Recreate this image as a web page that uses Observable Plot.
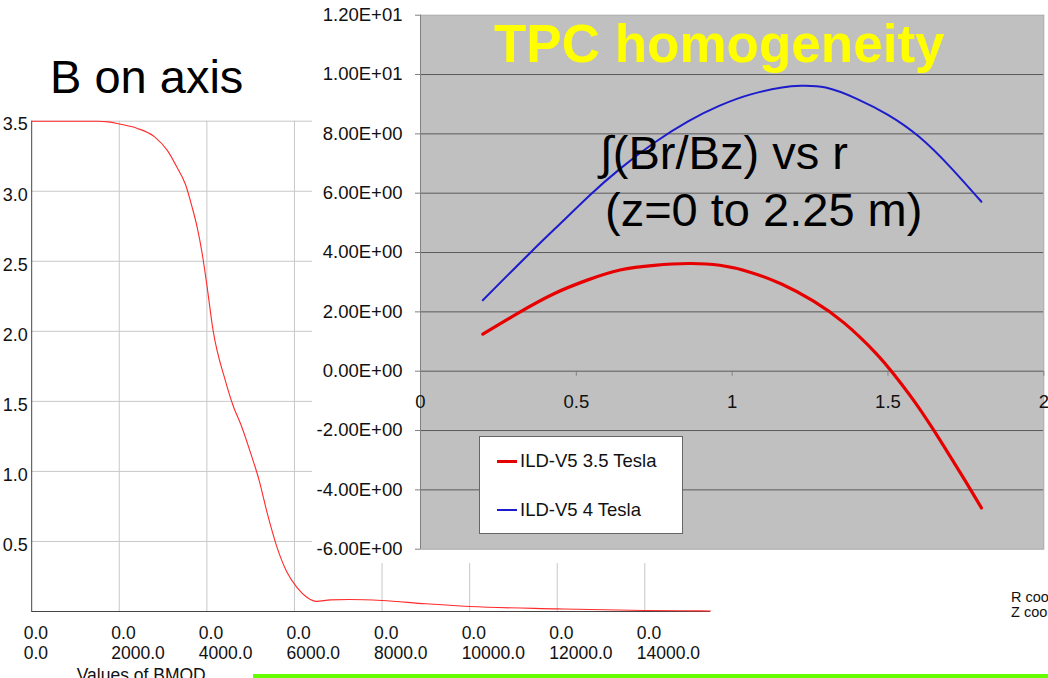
<!DOCTYPE html>
<html>
<head>
<meta charset="utf-8">
<script src="https://cdn.jsdelivr.net/npm/d3@7"></script>
<script src="https://cdn.jsdelivr.net/npm/@observablehq/plot@0.6"></script>
<style>
  html, body { margin: 0; padding: 0; background: white; }
  #wrap { position: relative; width: 1048px; height: 678px; overflow: hidden; background: white;
          font-family: "Liberation Sans", Arial, sans-serif; }
  #wrap > * { position: absolute; }
  .legend { background: white; border: 1px solid #666; box-sizing: border-box; font-size: 18.5px; color: #111; }
  .legend .row { position: absolute; display: flex; align-items: center; }
  .legend .sw { width: 20px; margin-right: 3px; }
</style>
</head>
<body>
<div id="wrap"></div>
<script>
// ---------- Left chart: B on axis ----------
const bzZ = [0, 1000, 1500, 1750, 2000, 2400, 2800, 3100, 3320, 3510, 3660, 3780, 3890, 4000, 4140, 4420, 4610, 4770, 5000, 5190, 5380, 5600, 5830, 6060, 6290, 6500, 6820, 7250, 8000, 9000, 10000, 12000, 14000, 15500];
const bzB = [3.50, 3.50, 3.50, 3.495, 3.48, 3.45, 3.39, 3.29, 3.17, 3.05, 2.89, 2.74, 2.56, 2.33, 2.01, 1.65, 1.46, 1.34, 1.13, 0.94, 0.70, 0.46, 0.28, 0.17, 0.10, 0.072, 0.083, 0.086, 0.079, 0.055, 0.036, 0.019, 0.007, 0.004];
const leftXTicks = [0, 2000, 4000, 6000, 8000, 10000, 12000, 14000];
const leftYTicks = [0.5, 1.0, 1.5, 2.0, 2.5, 3.0, 3.5];
const leftXTop = ["0.0", "0.0", "0.0", "0.0", "0.0", "0.0", "0.0", "0.0"];
const leftXBottom = ["0.0", "2000.0", "4000.0", "6000.0", "8000.0", "10000.0", "12000.0", "14000.0"];
const leftYLabels = ["0.5", "1.0", "1.5", "2.0", "2.5", "3.0", "3.5"];

// ---------- Right chart: TPC homogeneity ----------
const redR = [0.2, 0.32, 0.43, 0.535, 0.64, 0.75, 0.86, 0.96, 1.06, 1.16, 1.26, 1.36, 1.46, 1.52, 1.58, 1.64, 1.70, 1.75, 1.8];
const redV = [1.25, 2.0, 2.62, 3.07, 3.41, 3.57, 3.63, 3.57, 3.33, 2.93, 2.37, 1.62, 0.62, -0.12, -0.95, -1.88, -2.88, -3.73, -4.61];
const blueR = [0.2, 0.35, 0.46, 0.545, 0.64, 0.75, 0.86, 0.96, 1.06, 1.16, 1.22, 1.30, 1.40, 1.50, 1.60, 1.70, 1.8];
const blueV = [2.39, 3.97, 5.09, 5.95, 6.82, 7.7, 8.43, 8.95, 9.33, 9.56, 9.62, 9.56, 9.18, 8.64, 7.90, 6.88, 5.71];
const rightXTicks = [0, 0.5, 1, 1.5, 2];
const rightXLabels = ["0", "0.5", "1", "1.5", "2"];
const rightYTicks = [-6, -4, -2, 0, 2, 4, 6, 8, 10, 12];
const rightYLabels = ["-6.00E+00", "-4.00E+00", "-2.00E+00", "0.00E+00", "2.00E+00", "4.00E+00", "6.00E+00", "8.00E+00", "1.00E+01", "1.20E+01"];
const seriesNames = ["ILD-V5 3.5 Tesla", "ILD-V5 4 Tesla"];
const seriesColors = ["#e60000", "#1c1ccc"];

const bzData = bzZ.map((z, i) => ({z, b: bzB[i]}));
const redData = redR.map((r, i) => ({r, v: redV[i]}));
const blueData = blueR.map((r, i) => ({r, v: blueV[i]}));

const FONT = '"Liberation Sans", Arial, sans-serif';
const wrap = document.getElementById("wrap");

// Left plot
const left = Plot.plot({
  width: 720, height: 678,
  marginLeft: 31.2, marginRight: 10, marginTop: 120.7, marginBottom: 67,
  x: {domain: [0, 15500], axis: null},
  y: {domain: [0, 3.5], axis: null},
  style: {background: "transparent", fontFamily: FONT, color: "#111"},
  marks: [
    Plot.gridX(leftXTicks.slice(1), {stroke: "#c8c8c8", strokeOpacity: 1}),
    Plot.gridY(leftYTicks, {stroke: "#c8c8c8", strokeOpacity: 1}),
    Plot.ruleX([0], {stroke: "#444"}),
    Plot.ruleY([0], {stroke: "#444"}),
    Plot.line(bzData, {x: "z", y: "b", stroke: "#ff2a2a", strokeWidth: 1.1, curve: "monotone-x"}),
    Plot.axisY(leftYTicks, {tickSize: 0, tickPadding: 4, fontSize: 18, dy: 3.5, label: null,
      tickFormat: d => leftYLabels[leftYTicks.indexOf(d)]}),
    Plot.text(leftXTicks, {x: d => d, frameAnchor: "bottom", text: (d, i) => leftXTop[i],
      textAnchor: "start", dx: -8, dy: 27, fontSize: 17.5}),
    Plot.text(leftXTicks, {x: d => d, frameAnchor: "bottom", text: (d, i) => leftXBottom[i],
      textAnchor: "start", dx: -8, dy: 47, fontSize: 17.5}),
    Plot.text(["Values of BMOD"], {frameAnchor: "bottom-left", text: d => d, textAnchor: "start",
      dx: 45, dy: 69, fontSize: 17.5})
  ]
});
left.style.left = "0px"; left.style.top = "0px";
wrap.appendChild(left);

// Right plot
const right = Plot.plot({
  width: 736, height: 563,
  marginLeft: 108, marginRight: 4.7, marginTop: 14.7, marginBottom: 14.3,
  x: {domain: [0, 2], axis: null},
  y: {domain: [-6, 12], axis: null},
  style: {background: "white", fontFamily: FONT, color: "#111"},
  marks: [
    Plot.frame({fill: "#c0c0c0", stroke: null}),
    Plot.gridY(rightYTicks.slice(1, -1), {stroke: "#5a5a5a", strokeOpacity: 1}),
    Plot.frame({stroke: "#a8a8a8"}),
    Plot.ruleX([0], {stroke: "#808080"}),
    Plot.ruleX(rightXTicks, {x: d => d, y1: 0, y2: 0, insetBottom: -5, stroke: "#808080"}),
    Plot.axisY(rightYTicks, {tickSize: 5, tickPadding: 13, fontSize: 18.5, stroke: "#808080", label: null,
      tickFormat: d => rightYLabels[rightYTicks.indexOf(d)]}),
    Plot.text(rightXTicks, {x: d => d, y: 0, dy: 31, fontSize: 18.5,
      text: d => rightXLabels[rightXTicks.indexOf(d)]}),
    Plot.line(blueData, {x: "r", y: "v", stroke: seriesColors[1], strokeWidth: 2, curve: "natural"}),
    Plot.line(redData, {x: "r", y: "v", stroke: seriesColors[0], strokeWidth: 3.2, curve: "natural"})
  ]
});
right.style.left = "312px"; right.style.top = "0px";
wrap.appendChild(right);

// Legend
const legend = document.createElement("div");
legend.className = "legend";
Object.assign(legend.style, {left: "479px", top: "436px", width: "204px", height: "98px"});
seriesNames.forEach((name, i) => {
  const row = document.createElement("div");
  row.className = "row";
  row.style.left = "17px";
  row.style.top = (i === 0 ? 13 : 62) + "px";
  const sw = document.createElement("div");
  sw.className = "sw";
  sw.style.height = (i === 0 ? 3 : 2) + "px";
  sw.style.background = seriesColors[i];
  const t = document.createElement("span");
  t.textContent = name;
  row.appendChild(sw); row.appendChild(t);
  legend.appendChild(row);
});
wrap.appendChild(legend);

// Annotation texts
const NS = "http://www.w3.org/2000/svg";
const ann = document.createElementNS(NS, "svg");
ann.setAttribute("width", 1048); ann.setAttribute("height", 678);
ann.style.left = "0px"; ann.style.top = "0px";
ann.style.fontFamily = FONT;
const annotations = [
  {text: "B on axis", x: 50, y: 93, size: 47, fill: "#000", weight: "normal"},
  {text: "TPC homogeneity", x: 494, y: 62, size: 53, fill: "#ffff00", weight: "bold"},
  {text: "\u222B(Br/Bz) vs r", x: 600, y: 169, size: 47, fill: "#000", weight: "normal"},
  {text: "(z=0 to 2.25 m)", x: 605, y: 226, size: 47, fill: "#000", weight: "normal"},
  {text: "R coor", x: 1011, y: 602, size: 14.5, fill: "#111", weight: "normal"},
  {text: "Z coor", x: 1011, y: 617, size: 14.5, fill: "#111", weight: "normal"}
];
annotations.forEach(a => {
  const t = document.createElementNS(NS, "text");
  t.setAttribute("x", a.x); t.setAttribute("y", a.y);
  t.setAttribute("font-size", a.size); t.setAttribute("fill", a.fill);
  t.setAttribute("font-weight", a.weight);
  t.textContent = a.text;
  ann.appendChild(t);
});
wrap.appendChild(ann);

// Green bar at bottom
const bar = document.createElement("div");
Object.assign(bar.style, {left: "253px", top: "674px", width: "795px", height: "4px", background: "#66ff00"});
wrap.appendChild(bar);
</script>
</body>
</html>
